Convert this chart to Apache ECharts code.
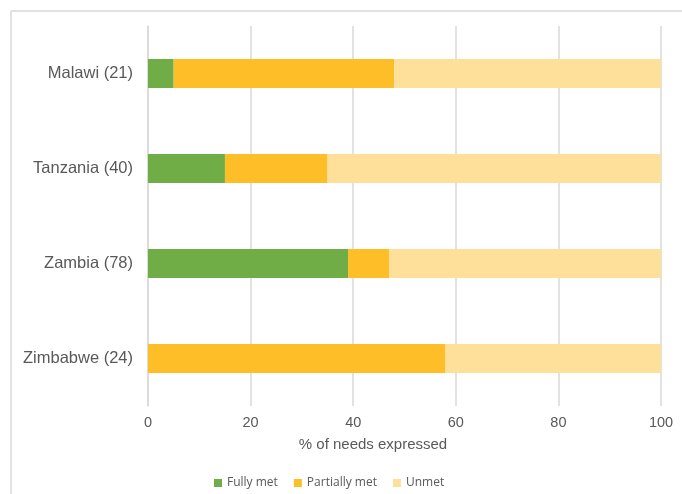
<!DOCTYPE html>
<html>
<head>
<meta charset="utf-8">
<script src="https://cdn.jsdelivr.net/npm/echarts@6/dist/echarts.min.js"></script>
<style>
  html, body { margin: 0; padding: 0; background: #fff; }
  #needsChart { width: 682px; height: 494px; }
</style>
</head>
<body>
<div id="needsChart"></div>
<script>
  var countries = ['Malawi (21)', 'Tanzania (40)', 'Zambia (78)', 'Zimbabwe (24)']
  var fullyMet = [5, 15, 39, 0]
  var partiallyMet = [43, 20, 8, 58]
  var unmet = [52, 65, 53, 42]

  var chart = echarts.init(document.getElementById('needsChart'))
  var labelFont = '"Liberation Sans", Arial, sans-serif'

  chart.setOption({
    animation: false,
    grid: {
      left: 148,
      right: 21,
      top: 26,
      bottom: 88
    },
    // thin frame at top and left, like the source picture
    graphic: [{
      type: 'line',
      shape: { x1: 11, y1: 11, x2: 682, y2: 11 },
      style: { stroke: '#d9d9d9', lineWidth: 1.5 }
    }, {
      type: 'line',
      shape: { x1: 11, y1: 11, x2: 11, y2: 494 },
      style: { stroke: '#d9d9d9', lineWidth: 1.5 }
    }],
    legend: {
      left: 209,
      top: 472,
      icon: 'rect',
      itemWidth: 8,
      itemHeight: 8,
      itemGap: 16,
      textStyle: { color: '#595959', fontSize: 12, fontFamily: '"Open Sans", sans-serif' },
      data: ['Fully met', 'Partially met', 'Unmet']
    },
    xAxis: {
      type: 'value',
      min: 0,
      max: 100,
      interval: 20,
      name: '% of needs expressed',
      nameLocation: 'middle',
      nameGap: 31,
      nameTextStyle: { color: '#595959', fontSize: 15, fontFamily: labelFont, padding: [0, 63, 0, 0] },
      axisLabel: { color: '#595959', fontSize: 14.5, fontFamily: labelFont, margin: 9 },
      axisTick: { show: false },
      axisLine: { show: false },
      splitLine: { lineStyle: { color: '#d9d9d9', width: 1.5 } }
    },
    yAxis: {
      type: 'category',
      inverse: true,
      data: countries,
      axisLabel: { color: '#595959', fontSize: 16.5, fontFamily: labelFont, margin: 15 },
      axisTick: { show: false },
      axisLine: { lineStyle: { color: '#d9d9d9', width: 1.5 } }
    },
    series: [{
      name: 'Fully met',
      type: 'bar',
      stack: 'needs',
      barWidth: 29,
      itemStyle: { color: '#70ad47' },
      data: fullyMet
    }, {
      name: 'Partially met',
      type: 'bar',
      stack: 'needs',
      barWidth: 29,
      itemStyle: { color: '#febe27' },
      data: partiallyMet
    }, {
      name: 'Unmet',
      type: 'bar',
      stack: 'needs',
      barWidth: 29,
      itemStyle: { color: '#ffe09b' },
      data: unmet
    }]
  })
</script>
</body>
</html>
